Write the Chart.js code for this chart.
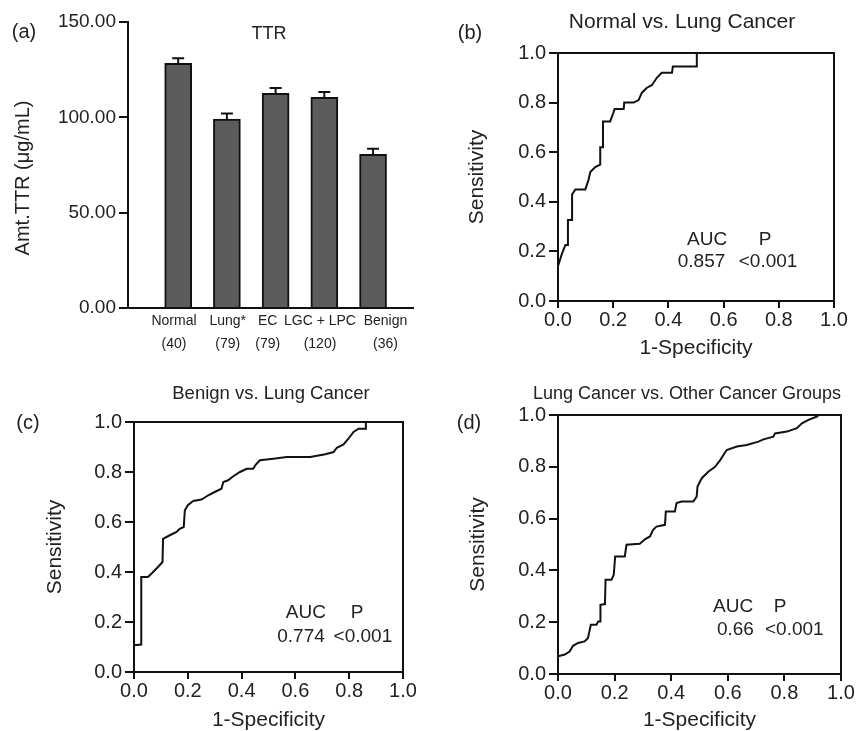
<!DOCTYPE html>
<html>
<head>
<meta charset="utf-8">
<script src="https://cdn.jsdelivr.net/npm/chart.js@4.4.1/dist/chart.umd.min.js"></script>
<style>
  html, body { margin: 0; padding: 0; background: #fff; }
  #page { position: relative; width: 865px; height: 731px; overflow: hidden;
          font-family: 'Liberation Sans', Arial, sans-serif; color: #222; }
  canvas { position: absolute; }
  .lbl { position: absolute; transform: translate(-50%, -50%); white-space: nowrap; line-height: 1; }
  .rot { transform: translate(-50%, -50%) rotate(-90deg); }
</style>
</head>
<body>
<div id="page">
  <canvas id="chartA" width="430" height="365" style="left:0;top:0"></canvas>
  <canvas id="chartB" width="435" height="365" style="left:430px;top:0"></canvas>
  <canvas id="chartC" width="430" height="366" style="left:0;top:365px"></canvas>
  <canvas id="chartD" width="435" height="366" style="left:430px;top:365px"></canvas>

  <div class="lbl" style="left:24px;top:31px;font-size:20px">(a)</div>
  <div class="lbl" style="left:269px;top:33px;font-size:18px">TTR</div>
  <div class="lbl rot" style="left:22px;top:178px;font-size:20px">Amt.TTR (μg/mL)</div>

  <div class="lbl" style="left:470px;top:32px;font-size:20px">(b)</div>
  <div class="lbl" style="left:682px;top:20px;font-size:21px">Normal vs. Lung Cancer</div>

  <div class="lbl" style="left:28px;top:422px;font-size:20px">(c)</div>
  <div class="lbl" style="left:271px;top:393px;font-size:18.5px">Benign vs. Lung Cancer</div>

  <div class="lbl" style="left:469px;top:422px;font-size:20px">(d)</div>
  <div class="lbl" style="left:687px;top:393px;font-size:18px">Lung Cancer vs. Other Cancer Groups</div>
</div>

<script>
//----------------------------------DATA-------------------------------------

// (a) TTR amount per group, mean + SEM
const groups = ['Normal', 'Lung*', 'EC', 'LGC + LPC', 'Benign'];
const groupN = ['(40)', '(79)', '(79)', '(120)', '(36)'];
const ttrMean = [128.3, 99.1, 112.6, 110.5, 80.6];
const ttrErr = [2.7, 2.9, 2.8, 2.8, 2.9];
const ttrTicks = [0, 50, 100, 150];

// ROC curves (1-specificity, sensitivity)
const rocTicks = [0, 0.2, 0.4, 0.6, 0.8, 1.0];

const fprB = [0, 0.014, 0.027, 0.036, 0.036, 0.051, 0.051, 0.063, 0.099, 0.111, 0.117, 0.135, 0.153, 0.153, 0.163, 0.163, 0.189, 0.201, 0.205, 0.238, 0.240, 0.274, 0.292, 0.304, 0.322, 0.340, 0.358, 0.376, 0.413, 0.416, 0.503, 0.503, 1.0];
const tprB = [0.14, 0.19, 0.226, 0.226, 0.327, 0.327, 0.43, 0.45, 0.45, 0.49, 0.52, 0.54, 0.55, 0.62, 0.62, 0.724, 0.724, 0.76, 0.774, 0.774, 0.80, 0.80, 0.81, 0.84, 0.86, 0.87, 0.90, 0.92, 0.92, 0.946, 0.946, 1.0, 1.0];

const fprC = [0, 0.027, 0.027, 0.052, 0.071, 0.089, 0.106, 0.108, 0.133, 0.158, 0.17, 0.185, 0.189, 0.20, 0.22, 0.251, 0.276, 0.30, 0.325, 0.332, 0.35, 0.369, 0.394, 0.419, 0.443, 0.453, 0.468, 0.518, 0.568, 0.655, 0.711, 0.742, 0.754, 0.779, 0.797, 0.816, 0.835, 0.86, 0.862, 1.0];
const tprC = [0.107, 0.11, 0.38, 0.38, 0.40, 0.42, 0.44, 0.533, 0.547, 0.56, 0.573, 0.58, 0.647, 0.667, 0.684, 0.69, 0.707, 0.72, 0.733, 0.76, 0.767, 0.783, 0.80, 0.813, 0.813, 0.83, 0.847, 0.853, 0.86, 0.86, 0.871, 0.88, 0.897, 0.91, 0.933, 0.96, 0.973, 0.973, 1.0, 1.0];

const fprD = [0, 0.024, 0.041, 0.053, 0.071, 0.094, 0.106, 0.116, 0.136, 0.142, 0.15, 0.15, 0.166, 0.168, 0.189, 0.197, 0.202, 0.236, 0.242, 0.289, 0.307, 0.325, 0.336, 0.348, 0.378, 0.381, 0.413, 0.419, 0.437, 0.478, 0.49, 0.493, 0.508, 0.531, 0.555, 0.573, 0.596, 0.632, 0.667, 0.708, 0.726, 0.761, 0.767, 0.809, 0.844, 0.862, 0.885, 0.915, 0.921, 1.0];
const tprD = [0.068, 0.075, 0.087, 0.109, 0.12, 0.126, 0.139, 0.19, 0.19, 0.203, 0.203, 0.267, 0.27, 0.364, 0.364, 0.383, 0.454, 0.454, 0.499, 0.503, 0.52, 0.531, 0.557, 0.569, 0.576, 0.627, 0.627, 0.66, 0.666, 0.666, 0.685, 0.724, 0.756, 0.781, 0.80, 0.826, 0.865, 0.878, 0.884, 0.897, 0.906, 0.916, 0.929, 0.936, 0.949, 0.968, 0.981, 0.994, 1.0, 1.0];

const aucVals = ['0.857', '0.774', '0.66'];
const pVals = ['<0.001', '<0.001', '<0.001'];

//----------------------------------PLUGINS-------------------------------------

const INK = '#111';
const TEXT = '#222';
Chart.defaults.font.family = "'Liberation Sans', Arial, sans-serif";
Chart.defaults.color = TEXT;

// T-shaped error bars on top of each bar
const errorBars = {
    id: 'errorBars',
    afterDatasetsDraw(chart) {
        const ctx = chart.ctx;
        const y = chart.scales.y;
        chart.getDatasetMeta(0).data.forEach((bar, i) => {
            const top = y.getPixelForValue(ttrMean[i] + ttrErr[i]);
            ctx.save();
            ctx.strokeStyle = INK;
            ctx.lineWidth = 2;
            ctx.beginPath();
            ctx.moveTo(bar.x, bar.y);
            ctx.lineTo(bar.x, top);
            ctx.moveTo(bar.x - 6, top);
            ctx.lineTo(bar.x + 6, top);
            ctx.stroke();
            ctx.restore();
        });
    }
};

// box around the plot area
const frame = {
    id: 'frame',
    afterDraw(chart) {
        const a = chart.chartArea;
        const ctx = chart.ctx;
        ctx.save();
        ctx.strokeStyle = INK;
        ctx.lineWidth = 2;
        ctx.strokeRect(a.left, a.top, a.right - a.left, a.bottom - a.top);
        ctx.restore();
    }
};

// AUC / P text placed in data coordinates
const notes = {
    id: 'notes',
    afterDraw(chart, args, opts) {
        const ctx = chart.ctx;
        const xs = chart.scales.x, ys = chart.scales.y;
        ctx.save();
        ctx.font = "19px 'Liberation Sans', Arial, sans-serif";
        ctx.fillStyle = TEXT;
        ctx.textAlign = 'center';
        ctx.textBaseline = 'middle';
        (opts.items || []).forEach(t => {
            ctx.fillText(t.text, xs.getPixelForValue(t.x), ys.getPixelForValue(t.y));
        });
        ctx.restore();
    }
};

//----------------------------------BAR CHART (a)-------------------------------------

// the group labels in the original sit a little off their bars
const labelSpots = [0.914, 2.016, 2.837, 3.911, 5.255];

new Chart(document.getElementById('chartA'), {
    type: 'bar',
    data: {
        datasets: [{
            data: ttrMean.map((v, i) => ({ x: i + 1, y: v })),
            backgroundColor: '#5c5c5c',
            borderColor: INK,
            borderWidth: 2,
            barThickness: 27
        }]
    },
    options: {
        responsive: false,
        animation: false,
        events: [],
        layout: { padding: { top: 22, right: 17, bottom: 0, left: 0 } },
        plugins: { legend: { display: false }, tooltip: { enabled: false } },
        scales: {
            x: {
                type: 'linear',
                min: -0.03,
                max: 5.82,
                offset: false,
                afterBuildTicks: s => { s.ticks = labelSpots.map(v => ({ value: v })); },
                afterFit: s => { s.height = 57; s.paddingLeft = 0; s.paddingRight = 0; },
                ticks: {
                    callback: (v, i) => [groups[i], groupN[i]],
                    font: { size: 14, lineHeight: '23px' },
                    padding: 1.5,
                    autoSkip: false,
                    maxRotation: 0
                },
                grid: { display: false, drawTicks: false, offset: false },
                border: { color: INK, width: 2 }
            },
            y: {
                min: 0,
                max: 150,
                afterBuildTicks: s => { s.ticks = ttrTicks.map(v => ({ value: v })); },
                afterFit: s => { s.width = 128; },
                ticks: { callback: v => v.toFixed(2), font: { size: 19 }, padding: 3 },
                grid: { drawOnChartArea: false, tickLength: 9, color: INK, lineWidth: 2 },
                border: { color: INK, width: 2 }
            }
        }
    },
    plugins: [errorBars]
});

//----------------------------------ROC CHARTS (b)-(d)-------------------------------------

function rocChart(id, fpr, tpr, box, k, spots) {
    new Chart(document.getElementById(id), {
        type: 'scatter',
        data: {
            datasets: [{
                data: fpr.map((x, i) => ({ x: x, y: tpr[i] })),
                showLine: true,
                pointRadius: 0,
                borderColor: INK,
                borderWidth: 2,
                tension: 0
            }]
        },
        options: {
            responsive: false,
            animation: false,
            events: [],
            layout: { padding: { top: box.top, right: box.right, bottom: 0, left: 0 } },
            plugins: {
                legend: { display: false },
                tooltip: { enabled: false },
                notes: {
                    items: [
                        { text: 'AUC', x: spots[0], y: spots[2] },
                        { text: 'P', x: spots[1], y: spots[2] },
                        { text: aucVals[k], x: spots[3], y: spots[5] },
                        { text: pVals[k], x: spots[4], y: spots[5] }
                    ]
                }
            },
            scales: {
                x: {
                    type: 'linear',
                    min: 0,
                    max: 1,
                    afterBuildTicks: s => { s.ticks = rocTicks.map(v => ({ value: v })); },
                    afterFit: s => { s.height = box.xh; s.paddingLeft = 0; s.paddingRight = 0; },
                    ticks: { callback: v => v.toFixed(1), font: { size: 20, lineHeight: 1.2 }, padding: 0, autoSkip: false, maxRotation: 0 },
                    grid: { drawOnChartArea: false, tickLength: 7, color: INK, lineWidth: 2 },
                    border: { color: INK, width: 2 },
                    title: { display: true, text: '1-Specificity', font: { size: 21, lineHeight: 1 }, padding: { top: 0, bottom: box.xtp } }
                },
                y: {
                    type: 'linear',
                    min: 0,
                    max: 1,
                    afterBuildTicks: s => { s.ticks = rocTicks.map(v => ({ value: v })); },
                    afterFit: s => { s.width = box.yw; },
                    ticks: { callback: v => v.toFixed(1), font: { size: 20 }, padding: 3 },
                    grid: { drawOnChartArea: false, tickLength: 9, color: INK, lineWidth: 2 },
                    border: { color: INK, width: 2 },
                    title: { display: true, text: 'Sensitivity', font: { size: 21, lineHeight: 1 }, padding: { top: box.ytp, bottom: 0 } }
                }
            }
        },
        plugins: [frame, notes]
    });
}

rocChart('chartB', fprB, tprB, { top: 53, right: 31, xh: 64, yw: 128, xtp: 6.5, ytp: 36.5 }, 0,
    [0.54, 0.75, 0.246, 0.52, 0.761, 0.157]);
rocChart('chartC', fprC, tprC, { top: 57, right: 27, xh: 59, yw: 134, xtp: 0.5, ytp: 44.5 }, 1,
    [0.639, 0.829, 0.235, 0.621, 0.851, 0.139]);
rocChart('chartD', fprD, tprD, { top: 50, right: 24, xh: 57, yw: 128, xtp: 0.5, ytp: 37.5 }, 2,
    [0.619, 0.785, 0.259, 0.627, 0.835, 0.17]);
</script>
</body>
</html>
